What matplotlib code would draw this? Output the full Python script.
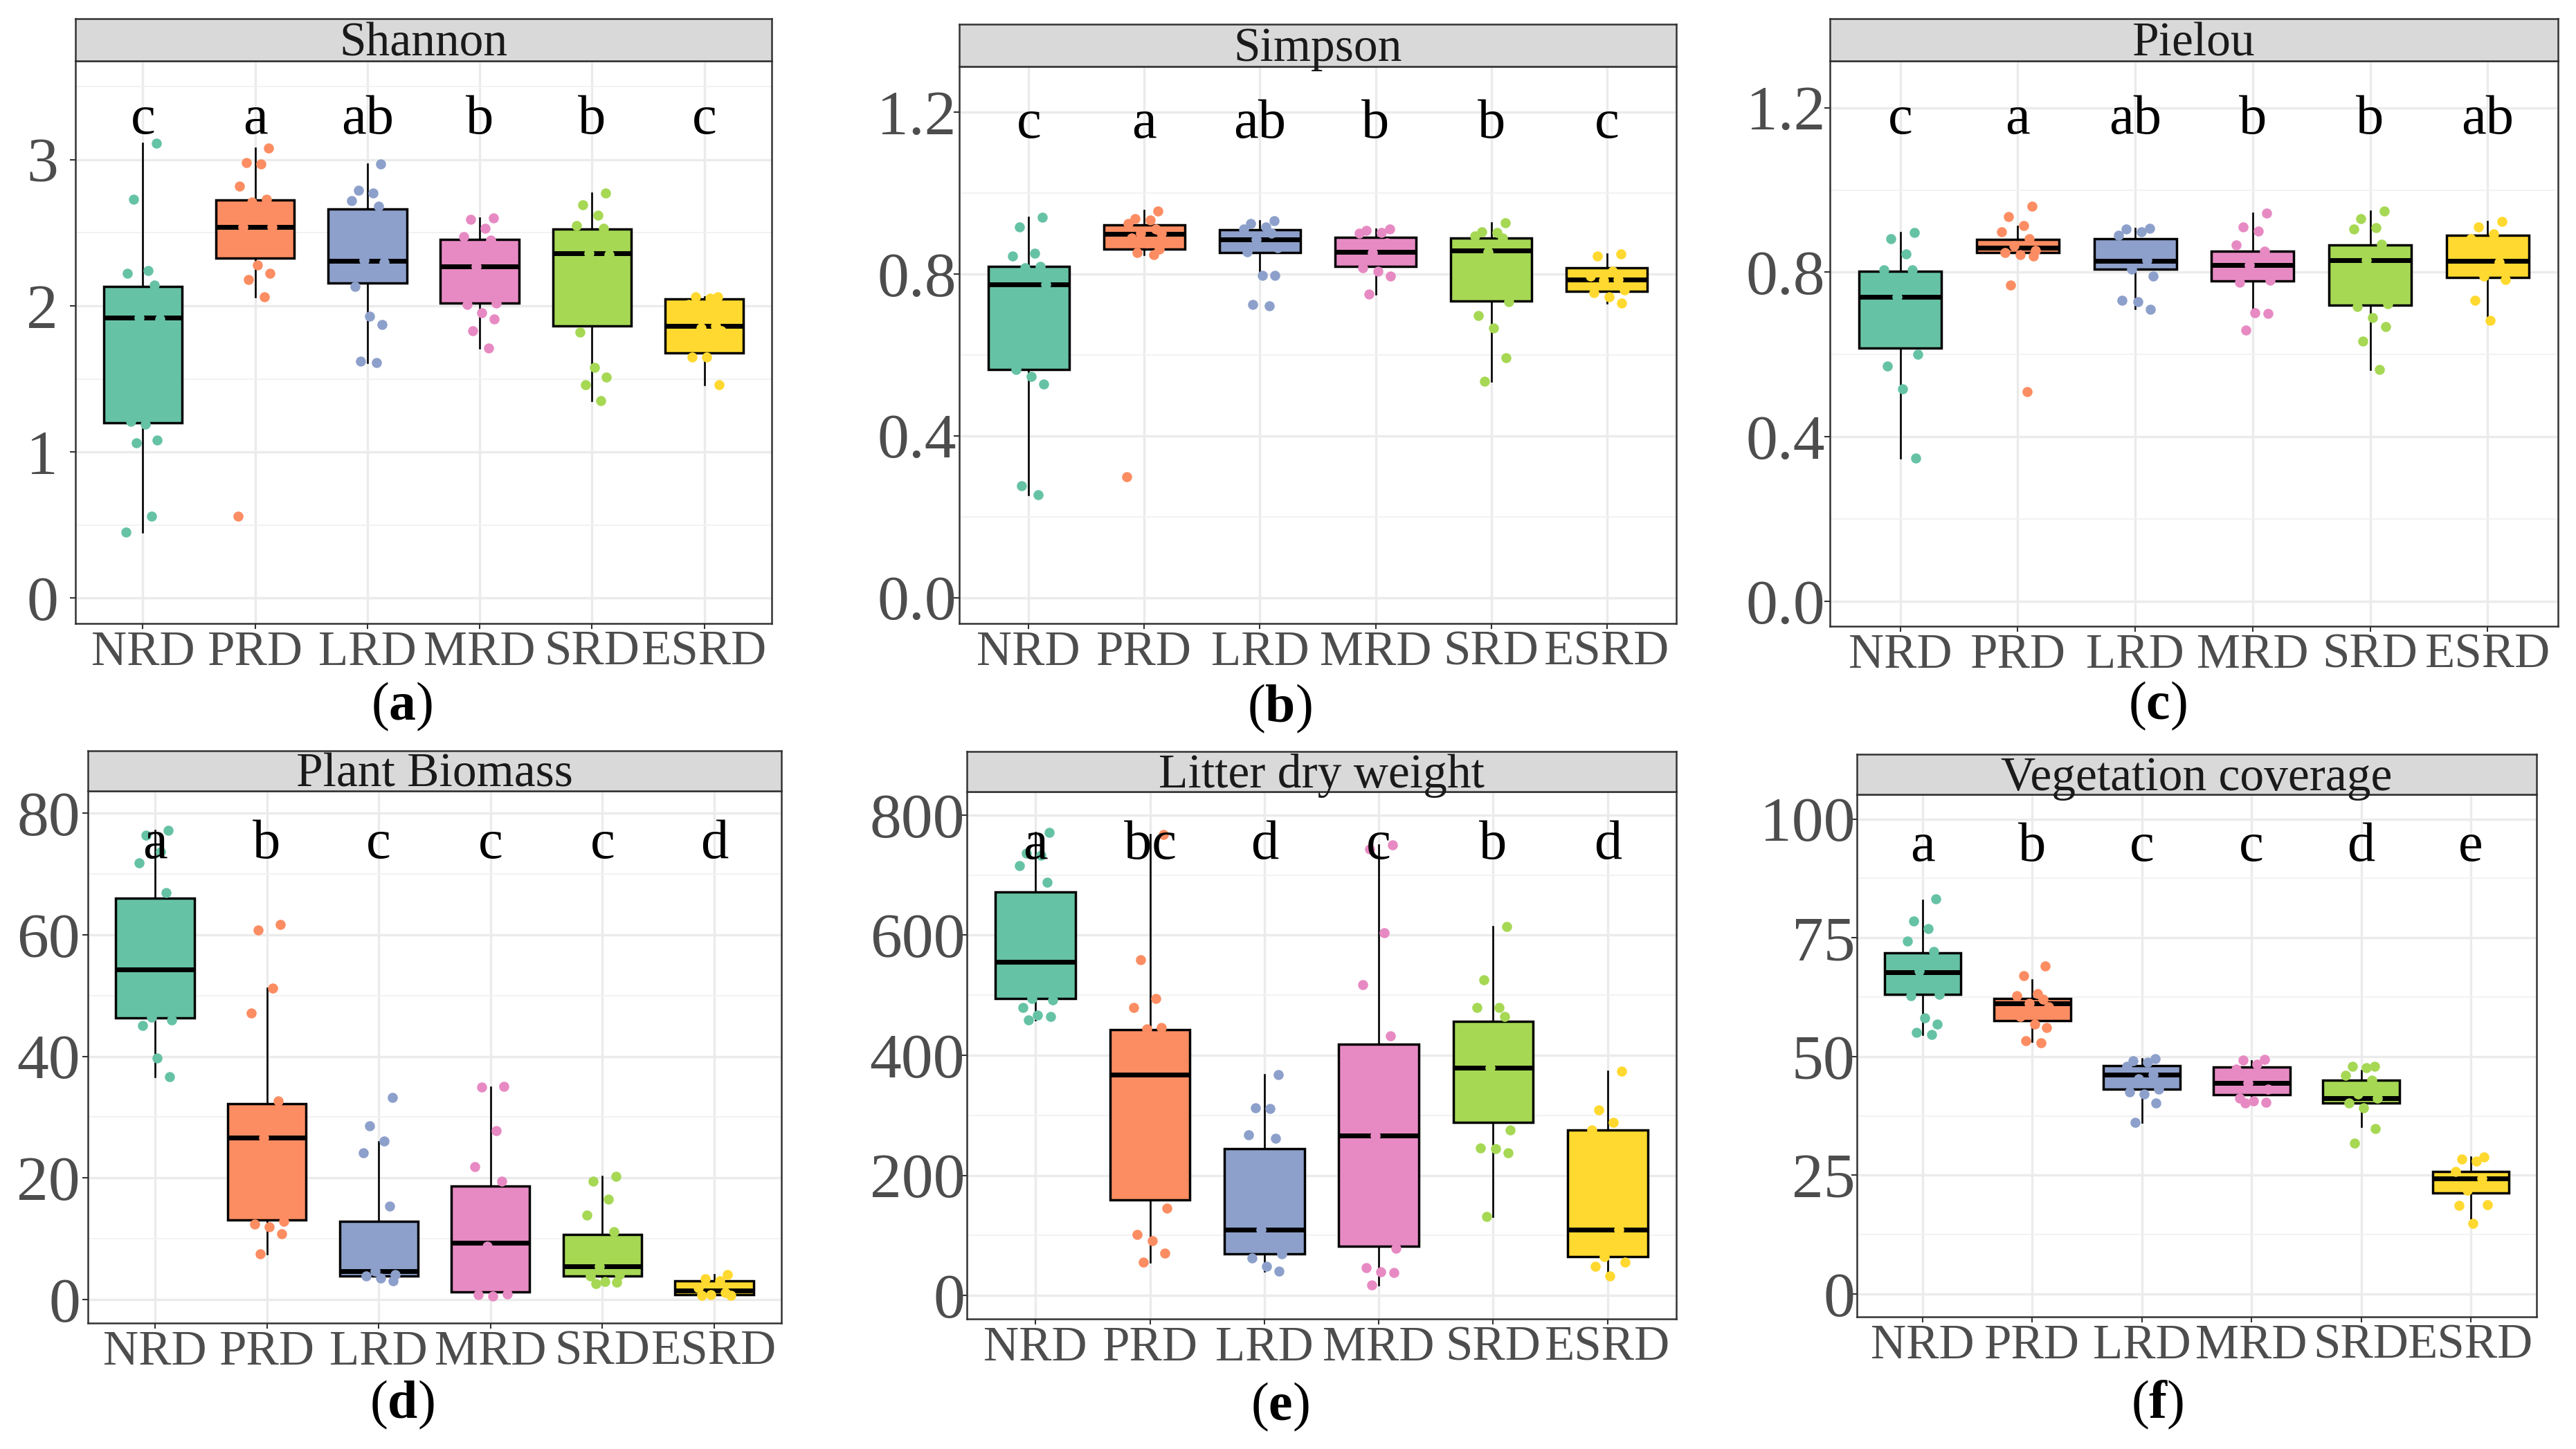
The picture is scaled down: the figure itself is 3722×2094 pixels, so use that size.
import matplotlib
matplotlib.use("Agg")
import matplotlib.pyplot as plt

plt.rcParams['font.family'] = ['Liberation Serif', 'DejaVu Serif']
plt.rcParams['mathtext.fontset'] = 'custom'
plt.rcParams['mathtext.rm'] = 'Liberation Serif'
plt.rcParams['mathtext.bf'] = 'Liberation Serif:bold'

groups = ["NRD", "PRD", "LRD", "MRD", "SRD", "ESRD"]
colors = ["#66C2A5", "#FC8D62", "#8DA0CB", "#E78AC3", "#A6D854", "#FFD92F"]

# box stats per group: (lower whisker, q1, median, q3, upper whisker)
shannon_box = [(0.45, 1.20, 1.92, 2.13, 3.11), (2.06, 2.325, 2.54, 2.725, 3.08),
               (1.61, 2.155, 2.305, 2.66, 2.97), (1.71, 2.02, 2.27, 2.455, 2.60),
               (1.35, 1.86, 2.36, 2.525, 2.77), (1.46, 1.68, 1.86, 2.045, 2.06)]
shannon_pts = [[3.11, 2.73, 2.24, 2.22, 2.14, 1.92, 1.91, 1.21, 1.19, 1.08, 1.06, 0.56, 0.45],
               [3.08, 2.98, 2.97, 2.82, 2.73, 2.71, 2.54, 2.54, 2.28, 2.22, 2.18, 2.06, 0.56],
               [2.97, 2.79, 2.77, 2.72, 2.68, 2.31, 2.30, 2.13, 1.93, 1.87, 1.62, 1.61],
               [2.60, 2.59, 2.53, 2.475, 2.45, 2.27, 2.02, 2.01, 1.95, 1.91, 1.83, 1.71],
               [2.77, 2.69, 2.62, 2.55, 2.53, 2.36, 2.35, 1.82, 1.58, 1.51, 1.46, 1.35],
               [2.06, 2.06, 2.05, 2.01, 1.86, 1.85, 1.83, 1.65, 1.65, 1.46]]
shannon_letters = ["c", "a", "ab", "b", "b", "c"]

simpson_box = [(0.255, 0.564, 0.775, 0.818, 0.94), (0.847, 0.862, 0.899, 0.921, 0.957),
               (0.797, 0.853, 0.886, 0.909, 0.932), (0.751, 0.818, 0.855, 0.891, 0.911),
               (0.535, 0.733, 0.858, 0.889, 0.927), (0.728, 0.757, 0.787, 0.815, 0.85)]
simpson_pts = [[0.94, 0.917, 0.852, 0.844, 0.818, 0.816, 0.775, 0.564, 0.547, 0.527, 0.277, 0.255],
               [0.955, 0.936, 0.934, 0.925, 0.911, 0.90, 0.90, 0.888, 0.876, 0.861, 0.853, 0.847, 0.298],
               [0.932, 0.925, 0.917, 0.911, 0.90, 0.886, 0.865, 0.855, 0.797, 0.797, 0.725, 0.721],
               [0.911, 0.907, 0.903, 0.90, 0.876, 0.853, 0.836, 0.816, 0.807, 0.795, 0.751],
               [0.927, 0.905, 0.903, 0.894, 0.888, 0.855, 0.731, 0.697, 0.666, 0.592, 0.535],
               [0.85, 0.844, 0.807, 0.795, 0.787, 0.784, 0.761, 0.753, 0.743, 0.728]]
simpson_letters = ["c", "a", "ab", "b", "b", "c"]

pielou_box = [(0.348, 0.615, 0.74, 0.802, 0.897), (0.842, 0.848, 0.859, 0.88, 0.9125),
              (0.711, 0.808, 0.828, 0.882, 0.907), (0.711, 0.778, 0.818, 0.851, 0.943),
              (0.564, 0.72, 0.83, 0.866, 0.948), (0.683, 0.7875, 0.827, 0.89, 0.924)]
pielou_pts = [[0.897, 0.882, 0.844, 0.806, 0.805, 0.74, 0.601, 0.572, 0.517, 0.348],
              [0.96, 0.936, 0.914, 0.899, 0.882, 0.865, 0.853, 0.848, 0.842, 0.839, 0.768, 0.509],
              [0.907, 0.905, 0.898, 0.89, 0.83, 0.808, 0.791, 0.732, 0.728, 0.709],
              [0.943, 0.91, 0.90, 0.867, 0.852, 0.818, 0.78, 0.776, 0.702, 0.70, 0.66],
              [0.948, 0.93, 0.909, 0.905, 0.868, 0.83, 0.723, 0.717, 0.689, 0.667, 0.632, 0.564],
              [0.924, 0.91, 0.893, 0.882, 0.825, 0.791, 0.782, 0.732, 0.683]]
pielou_letters = ["c", "a", "ab", "b", "b", "ab"]

biomass_box = [(36.7, 46.35, 54.3, 66.0, 77.2), (7.5, 13.1, 26.6, 32.2, 51.2),
               (3.0, 3.8, 4.7, 12.9, 26.0), (0.5, 1.2, 9.3, 18.7, 35.0),
               (2.6, 3.9, 5.4, 10.7, 20.3), (0.6, 0.75, 1.5, 3.0, 4.1)]
biomass_pts = [[77.2, 76.4, 73.7, 71.8, 67.0, 46.4, 46.0, 45.1, 39.7, 36.7],
               [61.7, 60.8, 51.2, 47.1, 32.7, 26.6, 12.9, 12.4, 11.9, 10.8, 7.5],
               [33.2, 28.6, 26.1, 24.1, 15.4, 4.7, 4.1, 3.8, 3.5, 3.0],
               [35.1, 34.9, 27.8, 21.8, 19.4, 8.7, 0.9, 0.75, 0.5],
               [20.3, 19.4, 16.5, 13.9, 11.1, 5.4, 4.1, 3.9, 2.9, 2.8, 2.6],
               [4.1, 3.4, 3.0, 1.9, 1.1, 0.8, 0.7, 0.6]]
biomass_letters = ["a", "b", "c", "c", "c", "d"]

litter_box = [(459, 494, 555, 672, 771), (56, 159, 368, 443, 768),
              (40, 69, 110, 244, 368), (17, 82, 266, 419, 750),
              (132, 288, 379, 456, 614), (33, 65, 110, 275, 374)]
litter_pts = [[771, 737, 733, 716, 688, 495, 492, 480, 467, 465, 459],
              [768, 559, 495, 480, 446, 444, 145, 102, 91, 71, 56],
              [368, 313, 311, 268, 262, 110, 69, 62, 49, 40],
              [750, 743, 604, 518, 432, 266, 79, 46, 39, 38, 17],
              [614, 526, 480, 479, 464, 379, 275, 246, 244, 238, 132],
              [374, 309, 288, 275, 110, 65, 56, 48, 33]]
litter_letters = ["a", "bc", "d", "c", "b", "d"]

cover_box = [(54.6, 63.1, 67.8, 71.8, 82.9), (53.2, 57.5, 61.2, 62.2, 66.2),
             (36.1, 43.1, 46.25, 48.1, 49.6), (40.4, 41.9, 44.4, 47.8, 49.1),
             (35.2, 40.2, 41.2, 45.0, 47.1), (15.0, 21.25, 24.3, 25.8, 28.8)]
cover_pts = [[83.2, 78.5, 77.0, 74.3, 72.2, 68.1, 63.1, 62.8, 58.1, 56.9, 55.1, 54.6],
             [69.0, 67.0, 63.3, 62.8, 62.1, 61.2, 60.4, 58.5, 56.9, 56.1, 53.4, 52.9],
             [49.5, 49.1, 48.8, 47.9, 46.25, 45.3, 43.1, 42.6, 42.1, 40.2, 36.1],
             [49.4, 49.2, 48.4, 47.4, 46.0, 44.4, 43.1, 41.2, 40.7, 40.4, 40.2],
             [48.0, 47.9, 47.7, 46.0, 45.0, 42.1, 41.2, 40.2, 39.2, 34.8, 31.7],
             [28.8, 28.4, 28.0, 25.8, 24.3, 21.9, 18.8, 18.7, 14.8]]
cover_letters = ["a", "b", "c", "c", "d", "e"]

# fixed horizontal spread for the dots
jitter = [0.12, -0.08, 0.05, -0.14, 0.1, -0.03, 0.15, -0.11, 0.02, 0.13, -0.06, 0.08, -0.15]

W, H = 3723, 2094
fig = plt.figure(figsize=(W / 100, H / 100), dpi=100)

# title, box, pts, letters, yticks, tick labels, ylim, letter y, pixel frame (l, r, strip top, strip bottom, bottom),
# ytick pad, panel tag and its centre
panels = [
    ("Shannon", shannon_box, shannon_pts, shannon_letters, [0, 1, 2, 3], ["0", "1", "2", "3"],
     (-0.173, 3.675), 3.18, (109, 1115, 27, 88, 901), 12, "a", (581, 1021)),
    ("Simpson", simpson_box, simpson_pts, simpson_letters, [0, 0.4, 0.8, 1.2], ["0.0", "0.4", "0.8", "1.2"],
     (-0.064, 1.313), 1.136, (1386, 2422, 35, 96, 901), -3, "b", (1849, 1024)),
    ("Pielou", pielou_box, pielou_pts, pielou_letters, [0, 0.4, 0.8, 1.2], ["0.0", "0.4", "0.8", "1.2"],
     (-0.061, 1.314), 1.137, (2644, 3696, 27, 88, 905), -1, "c", (3117, 1020)),
    ("Plant Biomass", biomass_box, biomass_pts, biomass_letters, [0, 20, 40, 60, 80], ["0", "20", "40", "60", "80"],
     (-3.9, 83.7), 72.6, (127, 1129, 1085, 1143, 1912), 2, "d", (581, 2030)),
    ("Litter dry weight", litter_box, litter_pts, litter_letters, [0, 200, 400, 600, 800],
     ["0", "200", "400", "600", "800"], (-39, 839), 727, (1397, 2422, 1086, 1144, 1906), -4, "e", (1849, 2033)),
    ("Vegetation coverage", cover_box, cover_pts, cover_letters, [0, 25, 50, 75, 100],
     ["0", "25", "50", "75", "100"], (-4.8, 105.2), 91.2, (2683, 3665, 1090, 1148, 1903), -4, "f", (3117, 2030)),
]

pos = list(range(1, 7))
for title, box, pts, letters, ticks, ticklabels, ylim, ly, frame, ypad, tag, tagxy in panels:
    l, r, st, sb, b = frame
    ax = fig.add_axes([l / W, 1 - b / H, (r - l) / W, (b - sb) / H])
    sax = fig.add_axes([l / W, 1 - sb / H, (r - l) / W, (sb - st) / H])

    stats = [dict(whislo=s[0], q1=s[1], med=s[2], q3=s[3], whishi=s[4], fliers=[]) for s in box]
    bp = ax.bxp(stats, positions=pos, widths=0.7, patch_artist=True, showcaps=False, showfliers=False,
                boxprops=dict(edgecolor="black", linewidth=2.5),
                medianprops=dict(color="black", linewidth=5, solid_capstyle="butt"),
                whiskerprops=dict(color="black", linewidth=1.9), zorder=2)
    for patch, c in zip(bp['boxes'], colors):
        patch.set_facecolor(c)

    for i, vals in enumerate(pts):
        xs = [pos[i] + jitter[j % len(jitter)] for j in range(len(vals))]
        ax.scatter(xs, vals, s=110, color=colors[i], linewidths=0, zorder=3)

    for i, t in enumerate(letters):
        ax.text(pos[i], ly, t, ha="center", va="baseline", fontsize=58, color="black", zorder=4)

    ax.set_xlim(0.4, 6.6)
    ax.set_ylim(*ylim)
    ax.set_xticks(pos)
    ax.set_xticklabels(groups)
    ax.set_yticks(ticks)
    ax.set_yticklabels(ticklabels)
    step = ticks[1] - ticks[0]
    minors = [t + step / 2 for t in ticks] + [ticks[0] - step / 2]
    ax.set_yticks([m for m in minors if ylim[0] < m < ylim[1]], minor=True)
    ax.grid(which="major", color="#ebebeb", linewidth=2.4)
    ax.grid(which="minor", axis="y", color="#f2f2f2", linewidth=1.4)
    ax.set_axisbelow(True)
    ax.tick_params(axis="x", which="major", labelsize=51, colors="#333333", labelcolor="#4d4d4d",
                   length=6, width=1.5, pad=1)
    ax.tick_params(axis="y", which="major", labelsize=66, colors="#333333", labelcolor="#4d4d4d",
                   length=6, width=1.5, pad=ypad)
    ax.tick_params(which="minor", length=0)
    for sp in ax.spines.values():
        sp.set_color("#333333")
        sp.set_linewidth(1.8)

    sax.set_facecolor("#d9d9d9")
    sax.set_xticks([])
    sax.set_yticks([])
    for sp in sax.spines.values():
        sp.set_color("#333333")
        sp.set_linewidth(1.8)
    sax.text(0.5, 0.4, title, ha="center", va="center", fontsize=50, color="#1a1a1a",
             transform=sax.transAxes)

    fig.text(tagxy[0] / W, 1 - tagxy[1] / H, "($\\mathbf{" + tag + "}$)", ha="center", va="center",
             fontsize=56, color="black")

fig.savefig("out.png", dpi=100, facecolor="white")
